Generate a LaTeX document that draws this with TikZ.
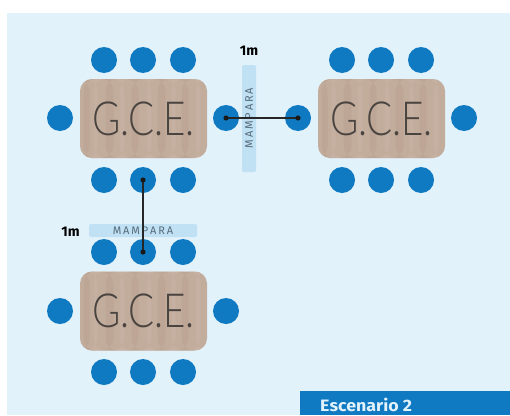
\documentclass[tikz,border=0pt]{standalone}
\usepackage{fontspec}
\setmainfont{Lato Light}
\newfontfamily\labelfont{Fira Sans}
\definecolor{panelblue}{HTML}{E1F2FB}
\definecolor{chairblue}{HTML}{0F79C2}
\definecolor{screenblue}{HTML}{C0E0F4}
\definecolor{woodbase}{HTML}{C2AC9C}
\definecolor{wooddark}{HTML}{B39A88}
\definecolor{woodlight}{HTML}{CDBBAD}
\definecolor{gcetext}{HTML}{4A4441}
\definecolor{screentext}{HTML}{566C7A}
\tikzset{
  chair/.style={circle,fill=chairblue,minimum size=26pt,inner sep=0pt},
  woodtable/.style={rectangle,rounded corners=12pt,fill=woodbase,minimum width=127pt,minimum height=79pt,inner sep=0pt,
    text=gcetext,font=\fontsize{47}{47}\selectfont,
    path picture={
      \foreach \dx/\w/\c in {-60/6/wooddark,-50/4/woodlight,-38/8/wooddark,-24/5/woodlight,-12/7/wooddark,3/5/woodlight,14/8/wooddark,28/4/woodlight,38/7/wooddark,52/5/woodlight}{
        \fill[\c,opacity=.3] ([xshift=\dx pt]path picture bounding box.north) rectangle ([xshift=\dx pt+\w pt]path picture bounding box.south);
      }
    }},
  screenpanel/.style={rectangle,rounded corners=2pt,fill=screenblue,inner sep=0pt},
  screenlabel/.style={text=screentext,font=\labelfont\fontsize{11}{12}\selectfont,inner sep=0pt},
  metre/.style={text=black,font=\labelfont\bfseries\fontsize{14}{14}\selectfont,inner sep=0pt},
  link/.style={draw=black!85,line width=1.2pt},
  enddot/.style={fill=black!90}
}
\newcommand{\gcetxt}{\scalebox{0.82}[1]{G.C.E.}}
\newcommand{\mamp}{M\kern1.9pt A\kern1.9pt M\kern1.9pt P\kern1.9pt A\kern1.9pt R\kern1.9pt A}
\begin{document}
\begin{tikzpicture}[x=1pt,y=-1pt]
\useasboundingbox (0,0) rectangle (510,415);
\fill[white] (0,0) rectangle (510,415);
\fill[panelblue] (7,13) rectangle (510,415);

% tables
\node[woodtable] (t1) at (143.5,118.5) {\gcetxt};
\node[woodtable] (t2) at (381.5,118.5) {\gcetxt};
\node[woodtable] (t3) at (143.5,311) {\gcetxt};

% chairs, table 1
\node[chair] (a1) at (104,60) {};
\node[chair] (a2) at (143,60) {};
\node[chair] (a3) at (183,60) {};
\node[chair] (a4) at (60,118) {};
\node[chair] (a5) at (226,118) {};
\node[chair] (a6) at (104,180) {};
\node[chair] (a7) at (143,180) {};
\node[chair] (a8) at (183,180) {};
% chairs, table 2
\node[chair] (b1) at (342,60) {};
\node[chair] (b2) at (381,60) {};
\node[chair] (b3) at (421,60) {};
\node[chair] (b4) at (298,118) {};
\node[chair] (b5) at (464,118) {};
\node[chair] (b6) at (342,180) {};
\node[chair] (b7) at (381,180) {};
\node[chair] (b8) at (421,180) {};
% chairs, table 3
\node[chair] (c1) at (104,252) {};
\node[chair] (c2) at (143,252) {};
\node[chair] (c3) at (183,252) {};
\node[chair] (c4) at (60,311) {};
\node[chair] (c5) at (226,311) {};
\node[chair] (c6) at (104,372) {};
\node[chair] (c7) at (143,372) {};
\node[chair] (c8) at (183,372) {};

% screens
\node[screenpanel,minimum width=14pt,minimum height=107pt] (sv) at (249,118.5) {};
\node[screenlabel,rotate=90] (svt) at (249,118) {\mamp};
\node[screenpanel,minimum width=108pt,minimum height=13pt] (sh) at (143,230.5) {};
\node[screenlabel] (sht) at (143,230.5) {\mamp};

% distance labels
\node[metre] (m1) at (249,50.5) {1m};
\node[metre] (m2) at (70.5,231.5) {1m};

% connectors
\draw[link] (a5.center) -- (b4.center);
\draw[link] (a7.center) -- (c2.center);
\fill[enddot] (a5.center) circle (2.6);
\fill[enddot] (b4.center) circle (2.6);
\fill[enddot] (a7.center) circle (2.6);
\fill[enddot] (c2.center) circle (2.6);

% caption
\fill[chairblue] (300,391) rectangle (510,415);
\node[anchor=base west,text=panelblue,font=\labelfont\bfseries\fontsize{16.5}{16.5}\selectfont,inner sep=0pt] (cap) at (320,411.5) {\scalebox{1.08}[1]{Escenario 2}};
\end{tikzpicture}
\end{document}
